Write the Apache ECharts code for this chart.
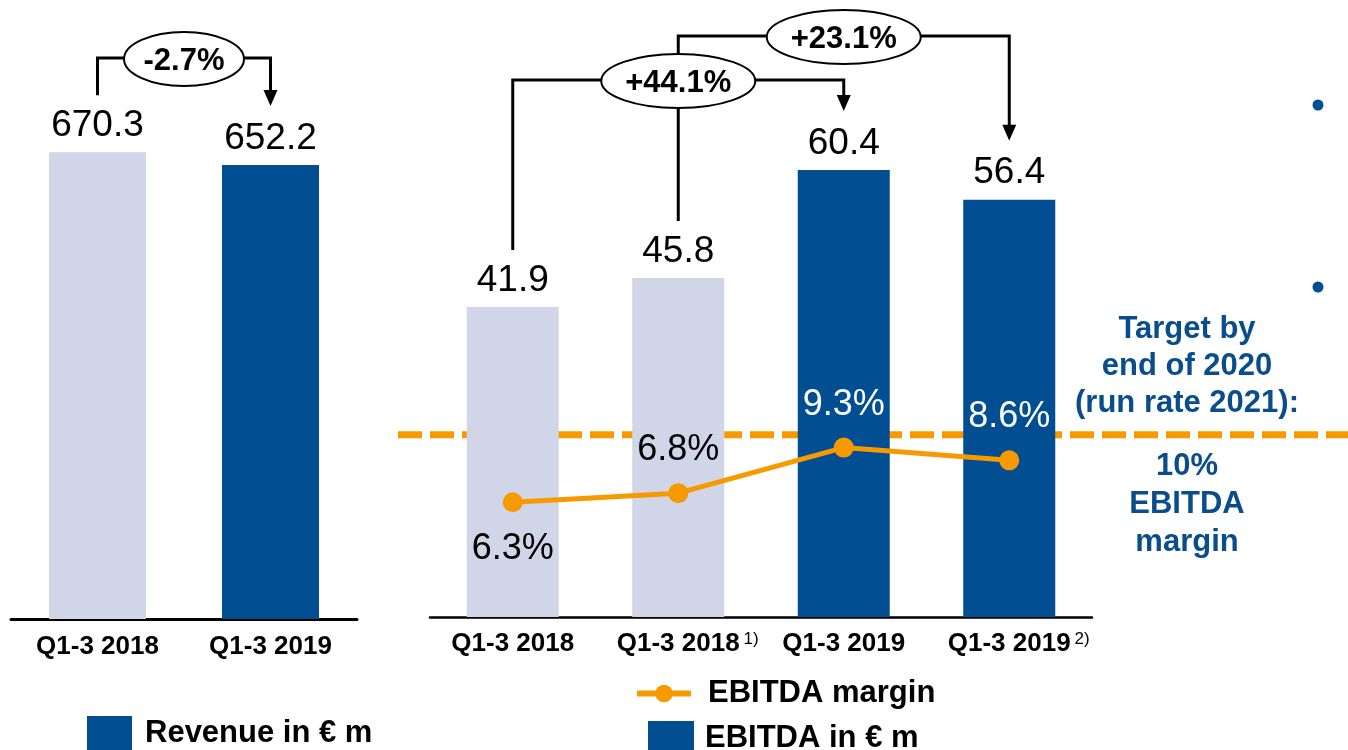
<!DOCTYPE html>
<html>
<head>
<meta charset="utf-8">
<script src="https://cdn.jsdelivr.net/npm/echarts@6/dist/echarts.min.js"></script>
<style>
html, body { margin: 0; padding: 0; background: #fff; }
#main { width: 1348px; height: 750px; }
</style>
</head>
<body>
<div id="main"></div>
<script>
// 数据
var revCategories = ['Q1-3 2018', 'Q1-3 2019'];
var revValues = [670.3, 652.2];
var revChange = '-2.7%';

var ebitdaCategories = ['Q1-3 2018', 'Q1-3 2018', 'Q1-3 2019', 'Q1-3 2019'];
var ebitdaNotes = ['', '1)', '', '2)'];
var ebitdaValues = [41.9, 45.8, 60.4, 56.4];
var marginValues = [6.3, 6.8, 9.3, 8.6];
var targetMargin = 10;
// 增长率括号: 从哪根柱到哪根柱
var ebitdaChangeFrom = [0, 1];
var ebitdaChangeTo = [2, 3];
var ebitdaChangeText = ['+44.1%', '+23.1%'];

var FONT = 'Liberation Sans, Arial, sans-serif';
var light = '#d0d5e8';
var dark = '#014f92';
var orange = '#f79a00';
var blueText = '#0a4d8c';

var myChart = echarts.init(document.getElementById('main'));

function barData(values, darkFrom) {
	return values.map(function(v, i) {
		return {
			value : v,
			itemStyle : { color : i < darkFrom ? light : dark }
		};
	});
}

// 第1个点标签在下方, 其余在上方
var marginLabelPos = ['bottom', 'top', 'top', 'top'];
var marginLabelColor = ['#000', '#000', '#fff', '#fff'];

var legendText = { fontSize : 31, fontWeight : 'bold', color : '#000' };

var option = {
	animation : false,
	textStyle : { fontFamily : FONT },
	grid : [
		{ left : 11, width : 346, top : 62, bottom : 131 },
		{ left : 430, width : 662, top : 25, bottom : 133 },
		{ left : 398, right : -20, top : 25, bottom : 133 }
	],
	legend : [ {
		data : ['Revenue in € m'],
		left : 87, top : 716, padding : 0,
		icon : 'rect',
		itemWidth : 45, itemHeight : 35,
		selectedMode : false,
		textStyle : Object.assign({ padding : [0, 0, 0, 8] }, legendText)
	}, {
		data : ['EBITDA margin'],
		left : 634, top : 678, padding : 0,
		itemWidth : 54, itemHeight : 22,
		lineStyle : { width : 6 },
		selectedMode : false,
		textStyle : Object.assign({ padding : [0, 0, 0, 12] }, legendText)
	}, {
		data : ['EBITDA in € m'],
		left : 648, top : 721, padding : 0,
		icon : 'rect',
		itemWidth : 46, itemHeight : 35,
		selectedMode : false,
		textStyle : Object.assign({ padding : [0, 0, 0, 6] }, legendText)
	} ],
	xAxis : [ {
		gridIndex : 0,
		type : 'category',
		data : revCategories,
		axisTick : { show : false },
		axisLine : { lineStyle : { color : '#000', width : 3 } },
		axisLabel : { interval : 0, fontSize : 26, fontWeight : 'bold', color : '#000', margin : 15 }
	}, {
		gridIndex : 1,
		type : 'category',
		data : ebitdaCategories,
		axisTick : { show : false },
		axisLine : { lineStyle : { color : '#000', width : 2.5 } },
		axisLabel : {
			interval : 0, hideOverlap : false,
			fontSize : 26, fontWeight : 'bold', color : '#000', margin : 14,
			formatter : function(v, i) {
				if (ebitdaNotes[i]) {
					return '{pad|}' + v + '{sup|' + ebitdaNotes[i] + '}';
				}
				return v;
			},
			rich : {
				pad : { width : 19 },
				sup : { fontSize : 17, fontWeight : 'normal', color : '#000', verticalAlign : 'top', padding : [0, 0, 6, 4] }
			}
		}
	}, {
		gridIndex : 2,
		type : 'category',
		data : ['a', 'b'],
		boundaryGap : false,
		show : false
	} ],
	yAxis : [ {
		gridIndex : 0, type : 'value', min : 0, max : 800, show : false
	}, {
		gridIndex : 1, type : 'value', min : 0, max : 80, show : false
	}, {
		gridIndex : 1, type : 'value', min : 0, max : 32.5, show : false
	}, {
		gridIndex : 2, type : 'value', min : 0, max : 32.5, show : false
	} ],
	series : [ {
		name : 'Revenue in € m',
		type : 'bar',
		xAxisIndex : 0, yAxisIndex : 0,
		z : 2,
		barWidth : 97,
		itemStyle : { color : dark },
		label : { show : true, position : 'top', distance : 8, fontSize : 37, color : '#000',
			formatter : function(p) { return p.value.toFixed(1); } },
		data : barData(revValues, 1)
	}, {
		name : 'EBITDA in € m',
		type : 'bar',
		xAxisIndex : 1, yAxisIndex : 1,
		z : 2,
		barWidth : 92,
		itemStyle : { color : dark },
		label : { show : true, position : 'top', distance : 8, fontSize : 37, color : '#000',
			formatter : function(p) { return p.value.toFixed(1); } },
		data : barData(ebitdaValues, 2)
	}, {
		// 10% 目标虚线, 在柱子后面
		name : 'Target',
		type : 'line',
		xAxisIndex : 2, yAxisIndex : 3,
		z : 1,
		symbol : 'none',
		lineStyle : { color : orange, width : 7, type : [24, 8] },
		data : [targetMargin, targetMargin]
	}, {
		name : 'EBITDA margin',
		type : 'line',
		xAxisIndex : 1, yAxisIndex : 2,
		z : 4,
		symbol : 'circle',
		symbolSize : 20,
		itemStyle : { color : orange },
		lineStyle : { color : orange, width : 5 },
		label : { show : true, fontSize : 36,
			formatter : function(p) { return p.value.toFixed(1) + '%'; } },
		data : marginValues.map(function(v, i) {
			return {
				value : v,
				label : {
					position : marginLabelPos[i],
					distance : marginLabelPos[i] === 'bottom' ? 19 : 15,
					color : marginLabelColor[i]
				}
			};
		})
	} ]
};

myChart.setOption(option);

// 括号和椭圆标注, 位置由坐标轴换算
function pt(axisIdx, yIdx, cat, val) {
	return myChart.convertToPixel({ xAxisIndex : axisIdx, yAxisIndex : yIdx }, [cat, val]);
}

var graphics = [];
function addBracket(a, b, level, text, rx) {
	var tip = b[1] - 59;
	graphics.push({
		type : 'polyline', z : 10,
		shape : { points : [ [a[0], a[1] - 57], [a[0], level], [b[0], level], [b[0], tip - 15] ] },
		style : { stroke : '#000', lineWidth : 3, fill : null }
	});
	graphics.push({
		type : 'polygon', z : 10,
		shape : { points : [ [b[0] - 7, tip - 16], [b[0] + 7, tip - 16], [b[0], tip] ] },
		style : { fill : '#000' }
	});
	var cx = (a[0] + b[0]) / 2;
	graphics.push({
		type : 'ellipse', z : 11,
		shape : { cx : cx, cy : level + 1, rx : rx, ry : 27 },
		style : { fill : '#fff', stroke : '#000', lineWidth : 2 }
	});
	graphics.push({
		type : 'text', z : 12,
		style : { text : text, x : cx, y : level + 3, align : 'center', verticalAlign : 'middle',
			textAlign : 'center', textVerticalAlign : 'middle',
			font : 'bold 31px ' + FONT, fill : '#000' }
	});
}

addBracket(pt(0, 0, 0, revValues[0]), pt(0, 0, 1, revValues[1]), 58, revChange, 60);
// 先画上层的 +23.1%, 其竖线被 +44.1% 的椭圆盖住
addBracket(pt(1, 1, ebitdaChangeFrom[1], ebitdaValues[ebitdaChangeFrom[1]]),
	pt(1, 1, ebitdaChangeTo[1], ebitdaValues[ebitdaChangeTo[1]]), 36, ebitdaChangeText[1], 77);
addBracket(pt(1, 1, ebitdaChangeFrom[0], ebitdaValues[ebitdaChangeFrom[0]]),
	pt(1, 1, ebitdaChangeTo[0], ebitdaValues[ebitdaChangeTo[0]]), 80, ebitdaChangeText[0], 77);

// 右侧目标说明
var noteStyle = { align : 'center', verticalAlign : 'middle', textAlign : 'center', textVerticalAlign : 'middle',
	font : 'bold 31px ' + FONT, fill : blueText };
graphics.push({
	type : 'text',
	style : Object.assign({ text : 'Target by\nend of 2020\n(run rate 2021):', x : 1187, y : 366, lineHeight : 37 }, noteStyle)
});
graphics.push({
	type : 'text',
	style : Object.assign({ text : '10%\nEBITDA\nmargin', x : 1187, y : 504, lineHeight : 38 }, noteStyle)
});
// 项目符号
graphics.push({ type : 'circle', shape : { cx : 1318, cy : 105, r : 5.5 }, style : { fill : dark } });
graphics.push({ type : 'circle', shape : { cx : 1318, cy : 287, r : 5.5 }, style : { fill : dark } });

myChart.setOption({ graphic : graphics });
</script>
</body>
</html>
